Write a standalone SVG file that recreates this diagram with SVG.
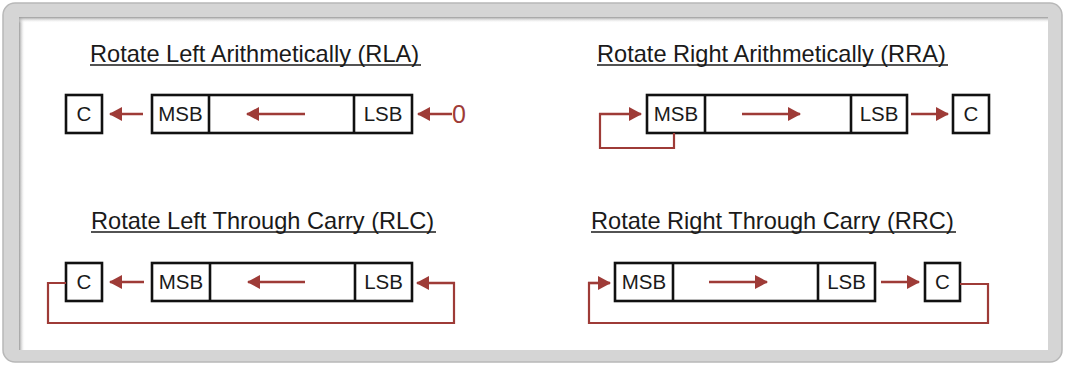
<svg xmlns="http://www.w3.org/2000/svg" width="1065" height="365" viewBox="0 0 1065 365">
  <defs>
    <marker id="ah" markerUnits="userSpaceOnUse" markerWidth="13" markerHeight="14" refX="12" refY="7" orient="auto">
      <path d="M0,0 L13,7 L0,14 z" fill="#9e3b37"/>
    </marker>
    <linearGradient id="shL" x1="0" y1="0" x2="1" y2="0">
      <stop offset="0" stop-color="#9a9a9a"/>
      <stop offset="1" stop-color="#ffffff" stop-opacity="0"/>
    </linearGradient>
    <linearGradient id="shT" x1="0" y1="0" x2="0" y2="1">
      <stop offset="0" stop-color="#9a9a9a"/>
      <stop offset="1" stop-color="#ffffff" stop-opacity="0"/>
    </linearGradient>
  </defs>
  <style>
    .frame { fill: #d5d5d5; stroke: #b8b8b8; stroke-width: 1.5; }
    .box { fill: #ffffff; stroke: #111111; stroke-width: 2.6; }
    .div { stroke: #111111; stroke-width: 2.6; }
    .title { font-family: "Liberation Sans", Arial, sans-serif; font-size: 23.6px; fill: #1a1a1a; }
    .ul { stroke: #1a1a1a; stroke-width: 1.6; }
    .lbl { font-family: "Liberation Sans", Arial, sans-serif; font-size: 20.5px; fill: #1a1a1a; text-anchor: middle; }
    .zero { font-family: "Liberation Sans", Arial, sans-serif; font-size: 25px; fill: #9e3b37; }
    .arr { stroke: #9e3b37; stroke-width: 2.6; fill: none; marker-end: url(#ah); }
    .loop { stroke: #9e3b37; stroke-width: 2.2; fill: none; }
  </style>

  <!-- frame -->
  <rect class="frame" x="3" y="3" width="1059" height="359" rx="12"/>
  <rect x="19" y="17" width="1029" height="333" fill="#ffffff"/>
  <rect x="19" y="17" width="6" height="333" fill="url(#shL)"/>
  <rect x="19" y="17" width="1029" height="6" fill="url(#shT)"/>

  <!-- RLA -->
  <g id="title-rla">
    <text class="title" x="90" y="62">Rotate Left Arithmetically (RLA)</text>
    <line class="ul" x1="90" y1="65" x2="421" y2="65"/>
  </g>
  <g id="rla-c">
    <rect class="box" x="66" y="95" width="36" height="38"/>
    <text class="lbl" x="84" y="121">C</text>
  </g>
  <g id="rla-reg">
    <rect class="box" x="152" y="95" width="260" height="38"/>
    <line class="div" x1="209" y1="95" x2="209" y2="133"/>
    <line class="div" x1="354" y1="95" x2="354" y2="133"/>
    <text class="lbl" x="180.5" y="121">MSB</text>
    <text class="lbl" x="383" y="121">LSB</text>
  </g>
  <g id="rla-zero">
    <text class="zero" x="452" y="123">0</text>
  </g>

  <!-- RRA -->
  <g id="title-rra">
    <text class="title" x="597" y="62">Rotate Right Arithmetically (RRA)</text>
    <line class="ul" x1="597" y1="65" x2="948" y2="65"/>
  </g>
  <g id="rra-reg">
    <rect class="box" x="647" y="95" width="260" height="38"/>
    <line class="div" x1="705" y1="95" x2="705" y2="133"/>
    <line class="div" x1="851" y1="95" x2="851" y2="133"/>
    <text class="lbl" x="676" y="121">MSB</text>
    <text class="lbl" x="879" y="121">LSB</text>
  </g>
  <g id="rra-c">
    <rect class="box" x="953" y="95" width="36" height="38"/>
    <text class="lbl" x="971" y="121">C</text>
  </g>

  <!-- RLC -->
  <g id="title-rlc">
    <text class="title" x="91" y="229">Rotate Left Through Carry (RLC)</text>
    <line class="ul" x1="91" y1="232" x2="436" y2="232"/>
  </g>
  <g id="rlc-c">
    <rect class="box" x="66" y="263" width="36" height="38"/>
    <text class="lbl" x="84" y="289">C</text>
  </g>
  <g id="rlc-reg">
    <rect class="box" x="152" y="263" width="260" height="38"/>
    <line class="div" x1="210" y1="263" x2="210" y2="301"/>
    <line class="div" x1="355" y1="263" x2="355" y2="301"/>
    <text class="lbl" x="181" y="289">MSB</text>
    <text class="lbl" x="383.5" y="289">LSB</text>
  </g>

  <!-- RRC -->
  <g id="title-rrc">
    <text class="title" x="591" y="229">Rotate Right Through Carry (RRC)</text>
    <line class="ul" x1="591" y1="232" x2="956" y2="232"/>
  </g>
  <g id="rrc-reg">
    <rect class="box" x="615" y="263" width="260" height="38"/>
    <line class="div" x1="673" y1="263" x2="673" y2="301"/>
    <line class="div" x1="818" y1="263" x2="818" y2="301"/>
    <text class="lbl" x="644" y="289">MSB</text>
    <text class="lbl" x="846.5" y="289">LSB</text>
  </g>
  <g id="rrc-c">
    <rect class="box" x="925" y="263" width="35" height="38"/>
    <text class="lbl" x="942.5" y="289">C</text>
  </g>

  <!-- connectors -->
  <g id="connectors">
    <!-- RLA -->
    <line class="arr" x1="143" y1="114" x2="110" y2="114"/>
    <line class="arr" x1="305" y1="114" x2="247" y2="114"/>
    <line class="arr" x1="452" y1="114" x2="418" y2="114"/>
    <!-- RRA -->
    <polyline class="loop" points="674,133 674,148 600,148 600,114 630,114"/>
    <line class="arr" x1="599" y1="114" x2="641" y2="114"/>
    <line class="arr" x1="742" y1="114" x2="800" y2="114"/>
    <line class="arr" x1="911" y1="114" x2="948" y2="114"/>
    <!-- RLC -->
    <line class="arr" x1="144" y1="282" x2="110" y2="282"/>
    <line class="arr" x1="305" y1="282" x2="248" y2="282"/>
    <polyline class="loop" points="66,283 48,283 48,323 454,323 454,283 430,283"/>
    <line class="arr" x1="455" y1="283" x2="417" y2="283"/>
    <!-- RRC -->
    <line class="arr" x1="709" y1="282" x2="767" y2="282"/>
    <line class="arr" x1="881" y1="282" x2="919" y2="282"/>
    <polyline class="loop" points="960,284 988,284 988,323 589,323 589,283 600,283"/>
    <line class="arr" x1="588" y1="283" x2="610" y2="283"/>
  </g>
</svg>
